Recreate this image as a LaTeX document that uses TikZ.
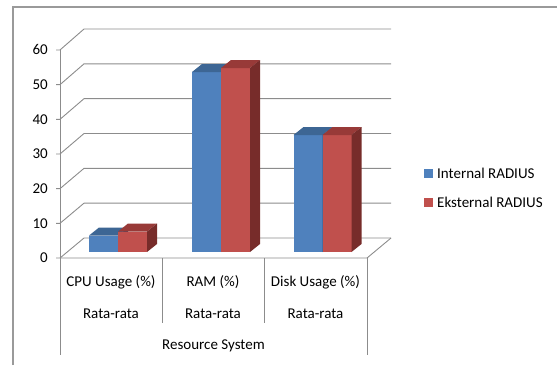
\documentclass[tikz,border=0pt]{standalone}
\usepackage{fontspec}
\setmainfont{Carlito}
\definecolor{gridgray}{HTML}{8C8C8C}
\definecolor{framegray}{HTML}{9A9A9A}
\definecolor{blueFront}{HTML}{4F81BD}
\definecolor{blueTop}{HTML}{3D6694}
\definecolor{blueSide}{HTML}{2F5078}
\definecolor{redFront}{HTML}{C0504D}
\definecolor{redTop}{HTML}{983A38}
\definecolor{redSide}{HTML}{772C2A}
% one 3-D bar: x of front-left edge, y of top (bar base at y=252), colours
\newcommand{\chartbar}[5]{%
  \fill[#3] (#1,#2) rectangle ++(29,252-#2);
  \fill[#4] (#1,#2) -- ++(10,-8) -- ++(29,0) -- ++(-10,8) -- cycle;
  \fill[#5] (#1+29,#2) -- ++(10,-8) -- (#1+39,244) -- (#1+29,252) -- cycle;
}
\begin{document}
\begin{tikzpicture}[x=1pt,y=-1pt,
  grid/.style={draw=gridgray,line width=0.9pt},
  lbl/.style={font=\fontsize{15}{18}\selectfont,text=black,inner sep=0pt}]
\useasboundingbox (0,0) rectangle (557,365);
% outer frame
\draw[framegray,line width=1.6pt] (13,365) -- (13,7) -- (557,7);
% value axis, gridlines and back wall
\foreach \k in {0,...,6}{
  \pgfmathsetmacro{\yf}{258-34.67*\k}
  \pgfmathsetmacro{\yb}{238-34.83*\k}
  \pgfmathtruncatemacro{\val}{10*\k}
  \draw[grid] (56,\yf) -- (60,\yf) -- (84,\yb) -- (391,\yb);
  \node[lbl,anchor=east] (v\k) at (48,\yf) {\val};
}
% floor front edge and right edge
\draw[grid] (60,258) -- (367,258) -- (391,238);
% axis line and category dividers
\draw[grid] (60,50) -- (60,355);
\draw[grid] (162,258) -- (162,323);
\draw[grid] (264,258) -- (264,323);
\draw[grid] (367,258) -- (367,355);
% bars
\chartbar{89}{235.5}{blueFront}{blueTop}{blueSide}
\chartbar{118}{231.5}{redFront}{redTop}{redSide}
\chartbar{192}{72}{blueFront}{blueTop}{blueSide}
\chartbar{221}{68}{redFront}{redTop}{redSide}
\chartbar{293.5}{135}{blueFront}{blueTop}{blueSide}
\chartbar{322.5}{135}{redFront}{redTop}{redSide}
% category labels
\node[lbl,anchor=base] (c1) at (111,286) {CPU Usage (\%)};
\node[lbl,anchor=base] (c2) at (213,286) {RAM (\%)};
\node[lbl,anchor=base] (c3) at (315.5,286) {Disk Usage (\%)};
\node[lbl,anchor=base] (r1) at (111,318) {Rata-rata};
\node[lbl,anchor=base] (r2) at (213,318) {Rata-rata};
\node[lbl,anchor=base] (r3) at (315.5,318) {Rata-rata};
\node[lbl,anchor=base] (grp) at (213.5,349) {Resource System};
% legend
\fill[blueFront] (424,168.5) rectangle (433,177.5);
\node[lbl,anchor=west] (l1) at (437,173) {Internal RADIUS};
\fill[redFront] (424,197.5) rectangle (433,206.5);
\node[lbl,anchor=west] (l2) at (437,202) {Eksternal RADIUS};
\end{tikzpicture}
\end{document}
